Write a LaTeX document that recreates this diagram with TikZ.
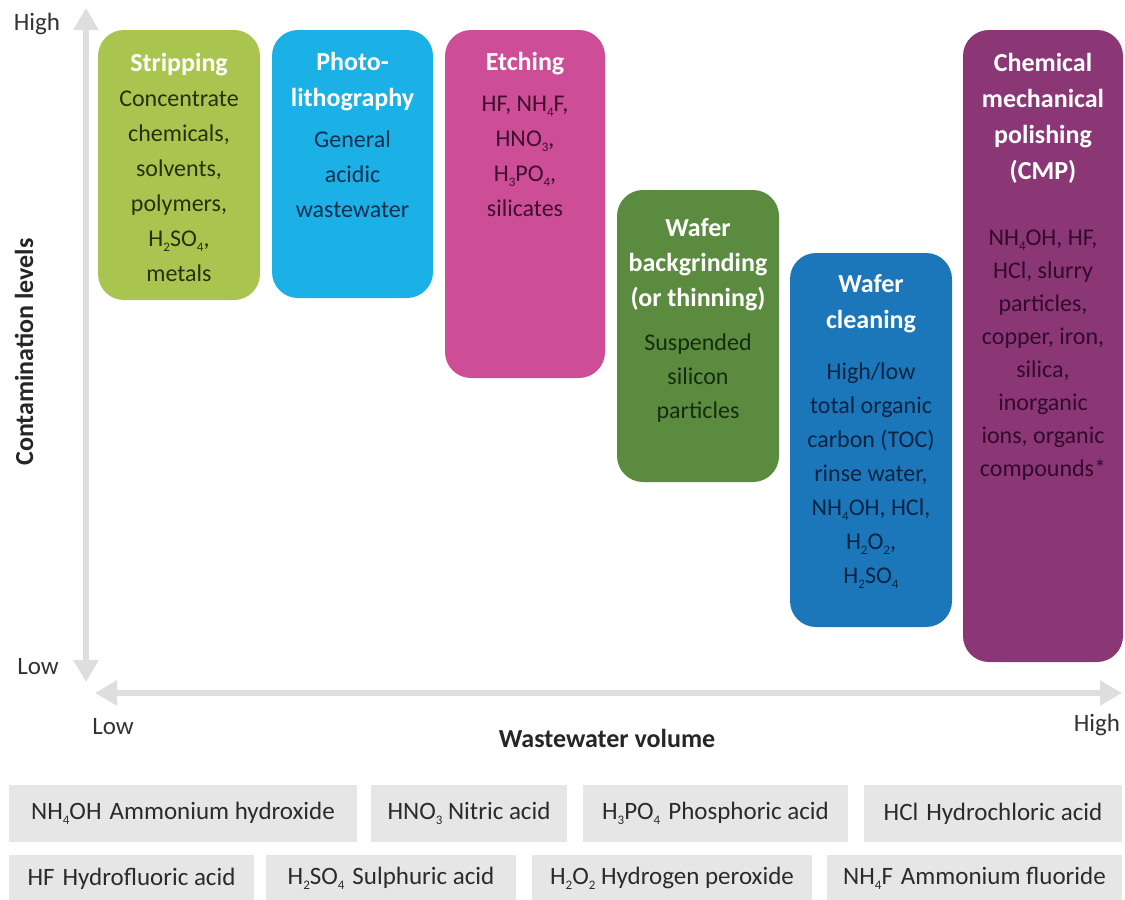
\documentclass[tikz,border=0pt]{standalone}
\usepackage{fontspec}
\setmainfont{Carlito}
\usetikzlibrary{arrows.meta}
\definecolor{cStrip}{HTML}{A9C54F}
\definecolor{tStrip}{HTML}{25310A}
\definecolor{cPhoto}{HTML}{1BB0E6}
\definecolor{tPhoto}{HTML}{10304F}
\definecolor{cEtch}{HTML}{CD4E97}
\definecolor{tEtch}{HTML}{3F0F2E}
\definecolor{cGrind}{HTML}{5A8B3F}
\definecolor{tGrind}{HTML}{162C0F}
\definecolor{cClean}{HTML}{1C77BA}
\definecolor{tClean}{HTML}{0A2442}
\definecolor{cCmp}{HTML}{8B3776}
\definecolor{tCmp}{HTML}{320A2B}
\definecolor{axisgrey}{HTML}{DEDEDE}
\definecolor{labgrey}{HTML}{333333}
\definecolor{leggrey}{HTML}{E6E6E6}
\definecolor{legtext}{HTML}{2B2B2B}
\newcommand\chs[1]{\raisebox{-5pt}{\fontsize{13}{13}\selectfont #1}}
\begin{document}
\begin{tikzpicture}[x=1pt,y=-1pt,
  procbox/.style={rounded corners=26pt, inner sep=0pt, draw=none},
  ttl/.style={anchor=north, align=center, inner sep=0pt, text=white, font=\bfseries\fontsize{26}{36}\selectfont},
  bdy/.style={anchor=north, align=center, inner sep=0pt, font=\fontsize{24}{#1}\selectfont},
  bdy/.default=35,
  axis/.style={draw=axisgrey, line width=6pt, {Triangle[width=24pt,length=22pt]}-{Triangle[width=24pt,length=22pt]}},
  axlab/.style={inner sep=0pt, text=labgrey, font=\fontsize{25}{30}\selectfont},
  axtitle/.style={inner sep=0pt, text=black!85, font=\bfseries\fontsize{26}{30}\selectfont},
  legbox/.style={fill=leggrey, inner sep=0pt, text=legtext, font=\fontsize{25}{30}\selectfont}
]
\useasboundingbox (0,0) rectangle (1125,900);
\fill[white] (0,0) rectangle (1125,900);

% axes
\coordinate (vtop) at (86,8);
\coordinate (vbot) at (86,682);
\coordinate (hl) at (95,693);
\coordinate (hr) at (1122,693);
\draw[axis] (vtop) -- (vbot);
\draw[axis] (hl) -- (hr);

\node[axlab] (yhigh) at (37,24) {High};
\node[axlab] (ylow) at (38,667) {Low};
\node[axlab] (xlow) at (113,727) {Low};
\node[axlab] (xhigh) at (1097,725) {High};
\node[axtitle, rotate=90] (ylab) at (24,352) {Contamination levels};
\node[axtitle] (xlab) at (607,738) {Wastewater volume};

% process boxes
\node[procbox, fill=cStrip, minimum width=162pt, minimum height=270pt] (strip) at (179,165) {};
\node[procbox, fill=cPhoto, minimum width=161pt, minimum height=268pt] (photo) at (352.5,164) {};
\node[procbox, fill=cEtch, minimum width=160pt, minimum height=348pt] (etch) at (525,204) {};
\node[procbox, fill=cGrind, minimum width=162pt, minimum height=292pt] (grind) at (698,336) {};
\node[procbox, fill=cClean, minimum width=162pt, minimum height=374pt] (clean) at (871,440) {};
\node[procbox, fill=cCmp, minimum width=160pt, minimum height=632pt] (cmp) at (1043,346) {};

% texts
\node[ttl] (stripT) at (179,53) {Stripping};
\node[bdy, text=tStrip] (stripB) at (179,91) {Concentrate\\chemicals,\\solvents,\\polymers,\\H\chs{2}SO\chs{4},\\metals};

\node[ttl] (photoT) at (352.5,52) {Photo-\\lithography};
\node[bdy, text=tPhoto] (photoB) at (352.5,131) {General\\acidic\\wastewater};

\node[ttl] (etchT) at (525,52) {Etching};
\node[bdy, text=tEtch] (etchB) at (525,96) {HF, NH\chs{4}F,\\HNO\chs{3},\\H\chs{3}PO\chs{4},\\silicates};

\node[ttl, font=\bfseries\fontsize{26}{35}\selectfont] (grindT) at (698,218) {Wafer\\backgrinding\\(or thinning)};
\node[bdy=34, text=tGrind] (grindB) at (698,334) {Suspended\\silicon\\particles};

\node[ttl] (cleanT) at (871,274) {Wafer\\cleaning};
\node[bdy=34, text=tClean] (cleanB) at (871,363) {High/low\\total organic\\carbon (TOC)\\rinse water,\\NH\chs{4}OH, HCl,\\H\chs{2}O\chs{2},\\H\chs{2}SO\chs{4}};

\node[ttl] (cmpT) at (1043,53) {Chemical\\mechanical\\polishing\\(CMP)};
\node[bdy=33, text=tCmp] (cmpB) at (1043,230) {NH\chs{4}OH, HF,\\HCl, slurry\\particles,\\copper, iron,\\silica,\\inorganic\\ions, organic\\compounds*};

% legend
\node[legbox, minimum width=348pt, minimum height=57pt] (l1) at (183,813.5) {NH\chs{4}OH\hspace{8pt}Ammonium hydroxide};
\node[legbox, minimum width=196pt, minimum height=57pt] (l2) at (469,813.5) {HNO\chs{3} Nitric acid};
\node[legbox, minimum width=265pt, minimum height=57pt] (l3) at (715.5,813.5) {H\chs{3}PO\chs{4}\hspace{8pt}Phosphoric acid};
\node[legbox, minimum width=258pt, minimum height=57pt] (l4) at (993,813.5) {HCl\hspace{8pt}Hydrochloric acid};
\node[legbox, minimum width=245pt, minimum height=47pt] (l5) at (131.5,878.5) {HF\hspace{8pt}Hydrofluoric acid};
\node[legbox, minimum width=250pt, minimum height=47pt] (l6) at (391,878.5) {H\chs{2}SO\chs{4}\hspace{8pt}Sulphuric acid};
\node[legbox, minimum width=280pt, minimum height=47pt] (l7) at (672,878.5) {H\chs{2}O\chs{2} Hydrogen peroxide};
\node[legbox, minimum width=295pt, minimum height=47pt] (l8) at (974.5,878.5) {NH\chs{4}F\hspace{8pt}Ammonium fluoride};
\end{tikzpicture}
\end{document}
